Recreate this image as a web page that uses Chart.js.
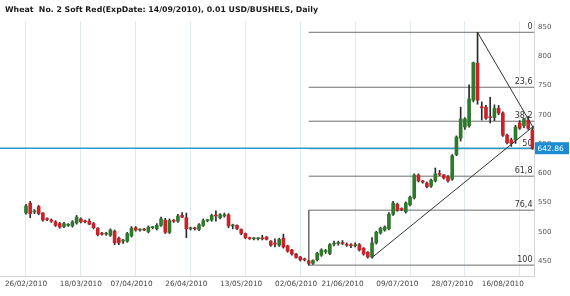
<!DOCTYPE html>
<html>
<head>
<meta charset="utf-8">
<script src="https://cdn.jsdelivr.net/npm/chart.js@4.4.0/dist/chart.umd.min.js"></script>
<style>
  html, body { margin: 0; padding: 0; background: #fff; }
</style>
</head>
<body>
<canvas id="chart" width="570" height="296"></canvas>
<script>
// ---- Data ----
const chartTitle = "Wheat  No. 2 Soft Red(ExpDate: 14/09/2010), 0.01 USD/BUSHELS, Daily";

const opens = [
  532,549,534,543,532,522,520,517,514,509, 511,510,515,522,518,518,514,506,497,496,
  494,501,489,484,484,493,507,503,504,500, 507,505,511,520,499,519,518,528,524,505,
  506,504,511,519,520,528,524,527,529,510, 511,504,497,489,488,488,489,491,484,480,
  477,489,476,469,462,457,453,450,446,452, 460,466,463,479,480,481,478,477,476,478,
  472,465,457,481,498,503,505,530,547,539, 534,546,558,597,586,583,578,587,599,597,
  594,590,632,660,679,681,725,788,713,713, 696,695,711,703,665,657,657,686,681,691,
  674
];
const highs = [
  547,552,538,545,533,524,522,519,516,516, 514,519,528,524,520,522,516,507,499,499,
  505,503,491,487,499,509,509,505,506,510, 509,514,525,523,522,521,530,533,532,508,
  508,514,522,521,530,536,531,532,531,513, 512,505,498,491,490,490,494,492,485,488,
  489,496,477,470,463,458,455,451,452,465, 471,470,480,484,484,485,481,480,481,480,
  473,466,490,501,508,510,533,552,549,541, 551,561,599,599,588,585,590,609,605,598,
  596,632,664,713,695,751,790,841,722,716, 730,717,716,705,667,660,682,690,694,697,
  678
];
const lows = [
  530,524,531,529,518,519,516,509,506,507, 509,508,513,515,515,512,505,493,494,494,
  492,478,478,480,482,491,501,501,502,498, 505,503,509,497,497,516,516,524,490,503,
  503,502,509,517,518,518,522,525,507,505, 504,495,488,487,486,486,486,486,475,474,
  475,472,465,460,455,450,450,443,444,450, 458,463,461,476,477,478,475,473,474,467,
  460,455,455,479,496,501,503,528,535,536, 532,544,556,585,583,575,576,585,596,590,
  585,588,630,655,675,679,722,718,691,692, 686,690,700,663,650,646,651,675,678,675,
  641
];
const closes = [
  544,531,535,531,520,521,518,511,508,514, 512,517,525,517,517,513,507,495,496,497,
  503,481,481,484,497,506,503,504,503,508, 508,511,522,499,519,518,527,525,505,506,
  505,512,519,520,528,527,529,529,510,511, 505,497,490,488,488,489,488,487,477,479,
  487,474,467,462,456,452,452,446,451,463, 469,467,478,480,481,480,477,476,478,469,
  462,457,481,499,506,508,530,549,537,538, 549,559,597,587,585,577,588,599,598,592,
  587,630,662,693,693,727,789,725,712,694, 695,711,703,665,652,651,679,677,693,677,
  642.86
];

// date labels and the candle they sit under
const dateLabels = ["26/02/2010","18/03/2010","07/04/2010","26/04/2010","13/05/2010",
                    "02/06/2010","21/06/2010","09/07/2010","28/07/2010","16/08/2010"];
const dateIdx = [0, 13, 25, 38, 51, 64, 75, 88, 101, 113];

const priceTicks = [450, 500, 550, 600, 650, 700, 750, 800, 850];
const fibRatios = [0, 23.6, 38.2, 50, 61.8, 76.4, 100];
// hand drawn trend lines: [fromIndex, fromPrice, toIndex, toPrice]
const trendLines = [[107, 841, 120.38, 676], [82, 456, 120.38, 681]];

// ---- derived ----
const XMIN = -6.16, XMAX = 120.38;
const gridIdx = [];
for (let i = 0; i < closes.length; i += 13) gridIdx.push(i);

const fibHigh = Math.max(...highs);
const fibLow = Math.min(...lows);
const fibStart = lows.indexOf(fibLow);
const fibPrice = r => fibHigh - (fibHigh - fibLow) * r / 100;
const lastPrice = closes[closes.length - 1];

const UP = "#2d7a2d", DOWN = "#c8232b";
const isUp = closes.map((c, i) => c >= opens[i]);

const wickData = closes.map((c, i) => ({ x: i, y: [lows[i], highs[i]] }));
const bodyData = closes.map((c, i) => ({ x: i, y: [Math.min(opens[i], c), Math.max(opens[i], c)] }));

const datasets = [];

// fib levels
fibRatios.forEach(r => {
  datasets.push({
    type: "line", order: 5,
    data: [{ x: fibStart, y: fibPrice(r) }, { x: XMAX, y: fibPrice(r) }],
    borderColor: "#6e6e6e", borderWidth: 1, pointRadius: 0
  });
});
datasets.push({
  type: "line", order: 5,
  data: [{ x: fibStart, y: fibPrice(76.4) }, { x: fibStart, y: fibPrice(100) }],
  borderColor: "#6e6e6e", borderWidth: 1, pointRadius: 0
});

// last price line
datasets.push({
  type: "line", order: 4,
  data: [{ x: XMIN, y: lastPrice }, { x: XMAX, y: lastPrice }],
  borderColor: "#2a9ac6", borderWidth: 1.5, pointRadius: 0
});

// candles
datasets.push({
  type: "bar", order: 3, grouped: false, data: wickData,
  backgroundColor: "#2a2a2a", barThickness: 1
});
datasets.push({
  type: "bar", order: 2, grouped: false, data: bodyData,
  backgroundColor: isUp.map(u => u ? UP : DOWN),
  borderWidth: 0, barThickness: 3, minBarLength: 1
});

// trend lines
trendLines.forEach(t => {
  datasets.push({
    type: "line", order: 1,
    data: [{ x: t[0], y: t[1] }, { x: t[2], y: t[3] }],
    borderColor: "#333", borderWidth: 1, pointRadius: 0
  });
});

// ---- plugins ----
const titlePlugin = {
  id: "titleText",
  afterDraw(chart) {
    const ctx = chart.ctx;
    ctx.save();
    ctx.font = 'bold 7.8px "DejaVu Sans"';
    ctx.fillStyle = "#1a1a1a";
    ctx.textBaseline = "middle";
    ctx.fillText(chartTitle, 5, 10);
    ctx.restore();
  }
};

const fibLabels = {
  id: "fibLabels",
  beforeDatasetsDraw(chart) {
    const ctx = chart.ctx, y = chart.scales.y, right = chart.chartArea.right;
    ctx.save();
    ctx.font = '8px "DejaVu Sans"';
    ctx.fillStyle = "#333";
    ctx.textAlign = "right";
    ctx.textBaseline = "bottom";
    fibRatios.forEach(r => {
      ctx.fillText(String(r).replace(".", ","), right - 1.5, y.getPixelForValue(fibPrice(r)) - 1);
    });
    ctx.restore();
  }
};

const lastBox = {
  id: "lastBox",
  afterDraw(chart) {
    const ctx = chart.ctx, py = chart.scales.y.getPixelForValue(lastPrice);
    const left = chart.chartArea.right + 1;
    ctx.save();
    ctx.fillStyle = "#1c8bd4";
    ctx.fillRect(left, py - 6, 34, 12);
    ctx.font = '7.5px "DejaVu Sans"';
    ctx.fillStyle = "#fff";
    ctx.textBaseline = "middle";
    ctx.fillText(lastPrice.toFixed(2), left + 2.5, py + 0.5);
    ctx.restore();
  }
};

new Chart(document.getElementById("chart"), {
  data: { datasets },
  plugins: [titlePlugin, fibLabels, lastBox],
  options: {
    responsive: false,
    animation: false,
    devicePixelRatio: 1,
    layout: { padding: { top: 21, left: 0, right: 0, bottom: 0 } },
    plugins: { legend: { display: false }, tooltip: { enabled: false } },
    scales: {
      x: {
        type: "linear", min: XMIN, max: XMAX, offset: false,
        afterBuildTicks: s => { s.ticks = gridIdx.map(v => ({ value: v })); },
        ticks: { display: false },
        grid: { color: "#e2ebf0", drawTicks: false, offset: false },
        border: { display: true, color: "#d4d4d4" },
        afterFit: s => { s.height = 0; }
      },
      xl: {
        type: "linear", position: "bottom", min: XMIN, max: XMAX, offset: false,
        afterBuildTicks: s => { s.ticks = dateIdx.map(v => ({ value: v })); },
        ticks: {
          autoSkip: false, maxRotation: 0, padding: 4,
          font: { family: "DejaVu Sans", size: 7.3 }, color: "#444",
          callback: v => dateLabels[dateIdx.indexOf(v)]
        },
        grid: { display: false, drawTicks: false, offset: false },
        border: { display: false },
        afterFit: s => { s.height = 20; }
      },
      y: {
        position: "right", min: 424.4, max: 860.3,
        afterBuildTicks: s => { s.ticks = priceTicks.map(v => ({ value: v })); },
        ticks: { padding: 4, font: { family: "DejaVu Sans", size: 7 }, color: "#555" },
        grid: { display: false, drawTicks: false },
        border: { display: true, color: "#d4d4d4" },
        afterFit: s => { s.width = 36; }
      }
    }
  }
});
</script>
</body>
</html>
